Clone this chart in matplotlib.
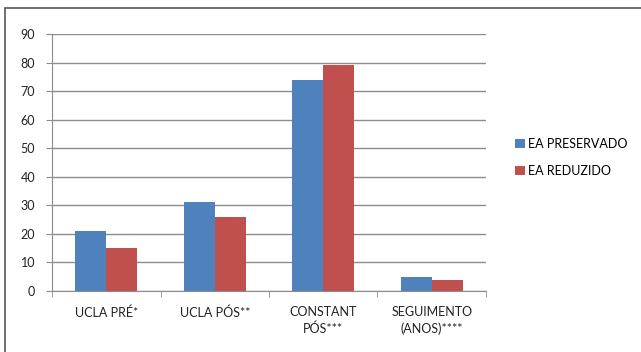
import numpy as np
import matplotlib
matplotlib.use("Agg")
from matplotlib import pyplot as plt
from matplotlib.patches import Rectangle

c_blue = "#4f81bd"
c_red = "#c0504d"
c_grid = "#8c8c8c"

categories = ["UCLA PRÉ*", "UCLA PÓS**", "CONSTANT\nPÓS***", "SEGUIMENTO\n(ANOS)****"]
preservado = [21, 31, 74, 5]
reduzido = [15, 26, 79, 4]

plt.rcParams["font.family"] = ["Lato", "DejaVu Sans"]

fig = plt.figure(figsize=(6.41, 3.52), dpi=100)
ax = fig.add_axes([52 / 641, 1 - 291 / 352, 434 / 641, 257 / 352])

x = np.arange(len(categories))
w = 0.285
ax.bar(x - w / 2, preservado, w, color=c_blue, label="EA PRESERVADO", zorder=3)
ax.bar(x + w / 2, reduzido, w, color=c_red, label="EA REDUZIDO", zorder=3)

ax.set_xlim(-0.5, len(categories) - 0.5)
ax.set_ylim(0, 90)
ax.set_yticks(range(0, 91, 10))
ax.yaxis.grid(True, color=c_grid, linewidth=1)
ax.set_axisbelow(True)

ax.set_xticks(x)
ax.set_xticklabels(categories, fontsize=9, color="#222222", linespacing=1.4)
ax.set_xticks(np.arange(-0.5, len(categories), 1), minor=True)
ax.tick_params(axis="x", which="major", length=0, pad=11)
ax.tick_params(axis="x", which="minor", length=4, color=c_grid)
ax.tick_params(axis="y", length=4, color=c_grid, labelsize=9, labelcolor="#222222", pad=8)

for s in ["top", "right"]:
    ax.spines[s].set_visible(False)
for s in ["left", "bottom"]:
    ax.spines[s].set_color(c_grid)

ax.legend(loc="center left", bbox_to_anchor=(1.04, 0.52), frameon=False, fontsize=9,
          handlelength=0.8, handleheight=0.8, handletextpad=0.3, labelspacing=1.2)

# outer frame
fig.patches.append(Rectangle((5 / 641, -0.05), 1.2, 1 - 8 / 352 + 0.05, transform=fig.transFigure,
                             fill=False, edgecolor="#555555", linewidth=1.2))

plt.savefig("out.png", dpi=100)
